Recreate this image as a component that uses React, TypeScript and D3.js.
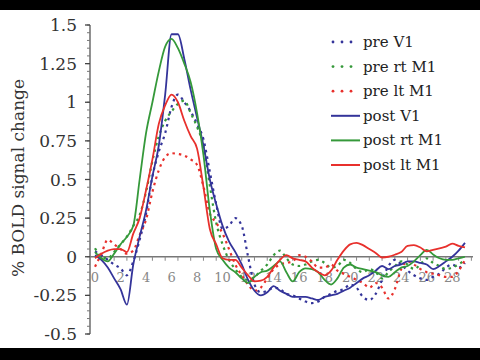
import React from 'react';
import * as d3 from 'd3';

// time points (s), one every half unit
const times = [
  0, 0.5, 1, 1.5, 2, 2.5, 3, 3.5, 4, 4.5, 5, 5.5, 6, 6.5, 7, 7.5, 8, 8.5, 9, 9.5,
  10, 10.5, 11, 11.5, 12, 12.5, 13, 13.5, 14, 14.5, 15, 15.5, 16, 16.5, 17, 17.5, 18, 18.5, 19, 19.5,
  20, 20.5, 21, 21.5, 22, 22.5, 23, 23.5, 24, 24.5, 25, 25.5, 26, 26.5, 27, 27.5, 28, 28.5, 29,
];

const preV1 = [
  0.035, 0.01, -0.02, -0.05, -0.075, -0.12, -0.03, 0.11, 0.28, 0.52, 0.68, 0.8, 0.97, 1.05, 1.0, 0.94, 0.86, 0.76, 0.55, 0.34,
  0.18, 0.2, 0.25, 0.2, 0.0, -0.18, -0.23, -0.22, -0.2, -0.21, -0.24, -0.25, -0.27, -0.29, -0.3, -0.29, -0.26, -0.24, -0.22, -0.21,
  -0.18, -0.2, -0.26, -0.28, -0.24, -0.15, -0.06, -0.02, -0.05, -0.09, -0.12, -0.14, -0.15, -0.13, -0.11, -0.07, -0.05, -0.07, -0.04,
];
const preRtM1 = [
  0.055, 0.0, -0.01, 0.03, 0.08, 0.13, 0.2, 0.27, 0.42, 0.62, 0.78, 0.88, 0.94, 0.99, 1.01, 0.93, 0.84, 0.72, 0.46, 0.22,
  0.08, -0.02, -0.08, -0.13, -0.15, -0.13, -0.09, -0.05, 0.01, 0.04, -0.01, -0.05, -0.06, -0.05, -0.03, -0.02, -0.04, -0.07, -0.06, -0.02,
  -0.04, -0.08, -0.1, -0.08, -0.1, -0.14, -0.1, -0.06, -0.03, -0.05, -0.08, -0.05, -0.01, -0.04, -0.06, -0.08, -0.07, -0.05, -0.02,
];
const preLtM1 = [
  -0.065, 0.02, 0.11, 0.08, 0.05, 0.02, 0.04, 0.14, 0.24, 0.42, 0.56, 0.645, 0.67, 0.665, 0.655, 0.63, 0.595, 0.455, 0.28, 0.22,
  0.15, 0.05, -0.05, -0.12, -0.18, -0.22, -0.2, -0.14, -0.08, -0.05, -0.04, -0.03, 0.01, 0.0, -0.03, -0.07, -0.07, -0.05, -0.09, -0.11,
  -0.13, -0.15, -0.17, -0.2, -0.17, -0.2, -0.27, -0.21, -0.08, -0.03, -0.05, -0.08, -0.1, -0.11, -0.12, -0.13, -0.13, -0.09, -0.02,
];
const postV1 = [
  0.01, -0.02, -0.07, -0.14, -0.21, -0.31, -0.05, 0.13, 0.3, 0.52, 0.72, 1.05, 1.44, 1.44, 1.28, 1.08, 0.9, 0.72, 0.5, 0.34,
  0.2, 0.1, 0.03, -0.05, -0.15, -0.22, -0.25, -0.23, -0.19, -0.22, -0.24, -0.26, -0.26, -0.26, -0.27, -0.28, -0.26, -0.25, -0.24, -0.22,
  -0.2, -0.17, -0.14, -0.12, -0.09, -0.06, -0.08, -0.06, -0.05, -0.03, -0.03, -0.04, -0.05, -0.08, -0.06, -0.03, 0.0, 0.04, 0.09,
];
const postRtM1 = [
  0.03, -0.01, -0.03, 0.02, 0.08, 0.13, 0.2, 0.5, 0.8, 1.0, 1.2, 1.36, 1.41, 1.35, 1.25, 1.13, 0.93, 0.66, 0.3, 0.05,
  -0.02, -0.07, -0.1, -0.14, -0.17, -0.13, -0.1, -0.09, -0.06, -0.03, -0.1, -0.16, -0.1, -0.075, -0.08, -0.1, -0.15, -0.18, -0.14, -0.07,
  -0.05, -0.07, -0.08, -0.09, -0.1, -0.12, -0.13, -0.1, -0.07, -0.06, -0.03, 0.01, 0.045, 0.015, -0.01, -0.02, -0.02, -0.01, 0.0,
];
const postLtM1 = [
  -0.01, 0.02, 0.04, 0.05, 0.05, 0.03, 0.15, 0.25, 0.43, 0.63, 0.86, 0.98, 1.05, 1.0, 0.88, 0.78, 0.7, 0.45, 0.18, 0.08,
  -0.01, -0.02, -0.02, -0.07, -0.12, -0.16, -0.155, -0.13, -0.07, -0.02, 0.01, -0.01, -0.02, -0.03, -0.07, -0.1, -0.12, -0.09, -0.02, 0.04,
  0.08, 0.09, 0.075, 0.05, 0.025, -0.005, 0.0, 0.013, 0.03, 0.07, 0.075, 0.06, 0.035, 0.045, 0.055, 0.065, 0.085, 0.07, 0.06,
];

const seriesNames = ['pre V1', 'pre rt M1', 'pre lt M1', 'post V1', 'post rt M1', 'post lt M1'];
const seriesValues = [preV1, preRtM1, preLtM1, postV1, postRtM1, postLtM1];
const seriesDotted = [true, true, true, false, false, false];
const seriesColors = ['#34349a', '#35993a', '#e8302c', '#34349a', '#35993a', '#e8302c'];

const yTicks = [-0.5, -0.25, 0, 0.25, 0.5, 0.75, 1, 1.25, 1.5];
const yTickLabels = ['-0.5', '-0.25', '0', '0.25', '0.5', '0.75', '1', '1.25', '1.5'];
const xTicks = [0, 2, 4, 6, 8, 10, 12, 14, 16, 18, 20, 22, 24, 26, 28];

const serif = '"DejaVu Serif", serif';

export default function App() {
  const W = 480, H = 360;
  const x = d3.scaleLinear().domain([0, 29]).range([95, 465]);
  const y = d3.scaleLinear().domain([-0.5, 1.5]).range([334, 25]);
  const axisX = 90;
  const y0 = y(0);

  const minor = d3.range(-0.5, 1.5001, 0.05);
  const unitTicks = d3.range(0, 30, 1);

  return (
    <svg width={W} height={H} style={{ position: 'absolute', left: 0, top: 0 }}>
      <rect x={0} y={0} width={W} height={H} fill="#fff" />

      {/* y axis */}
      <line x1={axisX} x2={axisX} y1={y(1.5)} y2={y(-0.5)} stroke="#555" strokeWidth={1.3} />
      {minor.map((v, i) => (
        <line key={'m' + i} x1={axisX - 3} x2={axisX} y1={y(v)} y2={y(v)} stroke="#777" strokeWidth={1} />
      ))}
      {yTicks.map((v, i) => (
        <g key={'y' + i}>
          <line x1={axisX - 5} x2={axisX} y1={y(v)} y2={y(v)} stroke="#444" strokeWidth={1.3} />
          <text x={77} y={y(v) + 6} textAnchor="end" fontFamily={serif} fontSize={17} fill="#333">
            {yTickLabels[i]}
          </text>
        </g>
      ))}
      <text
        transform={`translate(24,${178}) rotate(-90)`}
        textAnchor="middle"
        fontFamily={serif}
        fontSize={17}
        fill="#333"
      >
        % BOLD signal change
      </text>

      {/* x axis */}
      <line x1={axisX} x2={473} y1={y0} y2={y0} stroke="#777" strokeWidth={1.5} />
      {unitTicks.map(t => (
        <line key={'xt' + t} x1={x(t + 0.5)} x2={x(t + 0.5)} y1={y0} y2={y0 + 4} stroke="#888" strokeWidth={1} />
      ))}
      {xTicks.map(t => (
        <text key={'xl' + t} x={x(t)} y={y0 + 25} textAnchor="middle" fontFamily={serif} fontSize={13} fill="#888">
          {t}
        </text>
      ))}

      {/* series */}
      {seriesValues.map((vals, si) => {
        const line = d3.line<number>()
          .x((_, i) => x(times[i]))
          .y(v => y(v))
          .curve(d3.curveMonotoneX);
        return (
          <path
            key={'s' + si}
            d={line(vals) || ''}
            fill="none"
            stroke={seriesColors[si]}
            strokeWidth={seriesDotted[si] ? 2.2 : 1.8}
            strokeDasharray={seriesDotted[si] ? '2.5,4' : undefined}
            strokeLinejoin="round"
          />
        );
      })}

      {/* legend */}
      {seriesNames.map((name, i) => {
        const ly = 42 + i * 24.6;
        return (
          <g key={'lg' + i}>
            {seriesDotted[i] ? (
              [333, 342, 351].map(cx => <circle key={cx} cx={cx} cy={ly} r={1.4} fill={seriesColors[i]} />)
            ) : (
              <line x1={331} x2={360} y1={ly} y2={ly} stroke={seriesColors[i]} strokeWidth={2} />
            )}
            <text x={363} y={ly + 5} fontFamily={serif} fontSize={15} fill="#222">
              {name}
            </text>
          </g>
        );
      })}

      {/* letterbox bars */}
      <rect x={0} y={0} width={W} height={10} fill="#000" />
      <rect x={0} y={348} width={W} height={12} fill="#000" />
    </svg>
  );
}
